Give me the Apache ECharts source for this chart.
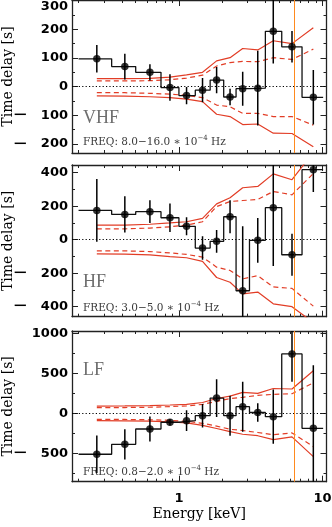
<!DOCTYPE html>
<html>
<head>
<meta charset="utf-8">
<script src="https://cdn.jsdelivr.net/npm/echarts@6/dist/echarts.min.js"></script>
<style>
html, body { margin: 0; padding: 0; background: #fff; }
#chart { width: 332px; height: 527px; }
</style>
</head>
<body>
<div id="chart"></div>
<script>
// energy bins (keV)
var energyEdges = [0.2, 0.34, 0.5, 0.75, 1.0, 1.3, 1.65, 2.05, 2.5, 3.1, 4.0, 5.2, 7.2, 10.1];
var energyCenters = [0.268, 0.42, 0.628, 0.866, 1.13, 1.46, 1.83, 2.27, 2.78, 3.54, 4.54, 6.13, 8.63];
var feLine = 6.4;

// VHF
var vhfDelay = [97, 70, 50, -3, -31, -12, 23, -36, -7, -5, 193, 139, -37];
var vhfErr = [48, 45, 28, 46, 30, 42, 46, 29, 59, 130, 112, 55, 95];
var vhfSolidUp = [28, 28, 29, 33, 41, 50, 90, 101, 133, 128, 160, 150, 205];
var vhfDashUp = [20, 20, 21, 24, 30, 40, 72, 84, 88, 87, 101, 95, 131];
var vhfDashLo = [-21, -21, -23, -26, -30, -38, -64, -70, -93, -93, -104, -104, -134];
var vhfSolidLo = [-32, -33, -35, -38, -43, -52, -96, -104, -132, -130, -162, -163, -209];

// HF
var hfDelay = [175, 151, 167, 131, 80, -50, -10, 137, -305, -4, 191, -90, 418];
var hfErr = [187, 108, 68, 85, 54, 70, 68, 98, 385, 134, 348, 126, 133];
var hfSolidUp = [87, 87, 92, 100, 107, 127, 214, 250, 310, 318, 393, 358, 522];
var hfDashUp = [65, 65, 69, 77, 87, 107, 198, 228, 234, 240, 288, 268, 395];
var hfDashLo = [-67, -67, -71, -79, -88, -104, -164, -184, -234, -215, -282, -291, -397];
var hfSolidLo = [-85, -86, -91, -101, -108, -130, -226, -254, -324, -313, -383, -400, -495];

// LF
var lfDelay = [-512, -388, -196, -112, -92, -30, 190, -30, 83, 10, -42, 742, -188];
var lfErr = [235, 188, 156, 40, 130, 146, 235, 250, 312, 115, 340, 346, 790];
var lfSolidUp = [90, 92, 96, 104, 112, 135, 185, 215, 262, 250, 310, 304, 533];
var lfDashUp = [70, 72, 76, 84, 92, 112, 150, 185, 200, 225, 237, 245, 380];
var lfDashLo = [-75, -77, -81, -88, -100, -125, -160, -200, -215, -240, -268, -245, -417];
var lfSolidLo = [-92, -94, -98, -106, -120, -150, -190, -230, -262, -280, -330, -295, -542];

// axis ticks
var xMajor = [1, 10];
var xMinor = [0.2, 0.3, 0.4, 0.5, 0.6, 0.7, 0.8, 0.9, 2, 3, 4, 5, 6, 7, 8, 9];
var vhfTicks = [-200, -100, 0, 100, 200, 300];
var vhfMinor = [-150, -50, 50, 150, 250];
var hfTicks = [-400, -200, 0, 200, 400];
var hfMinor = [-300, -100, 100, 300];
var lfTicks = [-500, 0, 500, 1000];
var lfMinor = [-750, -250, 250, 750];

var chart = echarts.init(document.getElementById('chart'), null, {renderer: 'canvas'});

var X_MIN = 0.18, X_MAX = 10.66;
var AXIS_COLOR = '#222';
var RED = '#e23d26';

var panels = [
	{name: 'VHF', freq: ['8.0', '16.0'], delay: vhfDelay, err: vhfErr, lines: [vhfSolidUp, vhfDashUp, vhfDashLo, vhfSolidLo],
	 ext: [-231, 302], ticks: vhfTicks, minor: vhfMinor, grid: {top: 0, height: 153}, labelY: 119, freqY: 142, topLabel: 'top'},
	{name: 'HF', freq: ['3.0', '5.0'], delay: hfDelay, err: hfErr, lines: [hfSolidUp, hfDashUp, hfDashLo, hfSolidLo],
	 ext: [-460, 446], ticks: hfTicks, minor: hfMinor, grid: {top: 165, height: 151.7}, labelY: 283, freqY: 308},
	{name: 'LF', freq: ['0.8', '2.0'], delay: lfDelay, err: lfErr, lines: [lfSolidUp, lfDashUp, lfDashLo, lfSolidLo],
	 ext: [-855, 1029], ticks: lfTicks, minor: lfMinor, grid: {top: 331, height: 150.7}, labelY: 371, freqY: 472}
];

var grids = [], xAxes = [], yAxes = [], series = [], graphics = [];

function xAxis(gi, pos, values, len, isMain, showLabel)
{
	return {
		type: 'log', logBase: 10, gridIndex: gi, position: pos, min: X_MIN, max: X_MAX,
		axisLine: {show: isMain, onZero: false, lineStyle: {color: AXIS_COLOR, width: 1.3}},
		axisTick: {show: true, inside: true, length: len, customValues: values, lineStyle: {color: AXIS_COLOR, width: 1}},
		axisLabel: {show: !!showLabel, customValues: values, margin: 10, fontFamily: 'DejaVu Sans', fontWeight: 'bold', fontSize: 13, color: '#000'},
		splitLine: {show: false},
		name: showLabel ? 'Energy [keV]' : '',
		nameLocation: 'middle', nameGap: 26, nameMoveOverlap: false,
		nameTextStyle: {fontFamily: 'DejaVu Serif', fontSize: 14, color: '#000'}
	};
}

function yAxis(gi, p, pos, values, len, isMain, showLabel)
{
	var label = {
		show: !!showLabel, customValues: values, margin: 4,
		fontFamily: 'DejaVu Sans', fontWeight: 'bold', fontSize: 13, color: '#000',
		formatter: function(v){ return v < 0 ? '{m|\u2212}\u2003' + Math.abs(v) : String(v); },
		rich: {m: {fontFamily: 'DejaVu Sans', fontWeight: 'normal', fontSize: 18, color: '#000'}}
	};
	if(p.topLabel) label.verticalAlignMaxLabel = p.topLabel;
	return {
		type: 'value', gridIndex: gi, position: pos, min: p.ext[0], max: p.ext[1],
		axisLine: {show: isMain, onZero: false, lineStyle: {color: AXIS_COLOR, width: 1.3}},
		axisTick: {show: true, inside: true, length: len, customValues: values, lineStyle: {color: AXIS_COLOR, width: 1}},
		axisLabel: label,
		splitLine: {show: false},
		name: showLabel ? 'Time delay [s]' : '',
		nameLocation: 'middle', nameGap: 57, nameMoveOverlap: false,
		nameTextStyle: {fontFamily: 'DejaVu Serif', fontSize: 14, color: '#000'}
	};
}

panels.forEach(function(p, gi){
	grids.push({left: 72, right: 5.5, top: p.grid.top, height: p.grid.height, containLabel: false, outerBoundsMode: 'none'});
	var last = gi == panels.length - 1;
	// order matters: grid flips a repeated position to the other side
	xAxes.push(xAxis(gi, 'bottom', xMajor, 6, true, last));
	xAxes.push(xAxis(gi, 'top', xMajor, 6, true, false));
	xAxes.push(xAxis(gi, 'bottom', xMinor, 3, false, false));
	xAxes.push(xAxis(gi, 'top', xMinor, 3, false, false));
	yAxes.push(yAxis(gi, p, 'left', p.ticks, 6, true, true));
	yAxes.push(yAxis(gi, p, 'right', p.ticks, 6, true, false));
	yAxes.push(yAxis(gi, p, 'left', p.minor, 3, false, false));
	yAxes.push(yAxis(gi, p, 'right', p.minor, 3, false, false));

	var xi = gi * 4, yi = gi * 4;

	// step histogram
	var stepData = energyEdges.map(function(e, i){
		return [e, p.delay[Math.min(i, p.delay.length - 1)]];
	});
	series.push({
		type: 'line', xAxisIndex: xi, yAxisIndex: yi, step: 'end', data: stepData,
		symbol: 'none', lineStyle: {color: '#111', width: 1.3}, z: 3, silent: true,
		markLine: {
			silent: true, symbol: ['none', 'none'], label: {show: false}, animation: false,
			data: [
				{yAxis: 0, lineStyle: {type: [1.2, 2.2], color: '#000', width: 1.1}},
				{xAxis: feLine, lineStyle: {type: 'solid', color: '#ff8a1e', width: 1}}
			]
		}
	});

	// red confidence contours
	p.lines.forEach(function(vals, k){
		series.push({
			type: 'line', xAxisIndex: xi, yAxisIndex: yi, symbol: 'none', silent: true,
			data: energyCenters.map(function(e, i){ return [e, vals[i]]; }),
			lineStyle: {color: RED, width: 1.2, type: (k == 1 || k == 2) ? [5, 3.5] : 'solid'}, z: 2
		});
	});

	// error bars
	series.push({
		type: 'custom', xAxisIndex: xi, yAxisIndex: yi, silent: true, z: 4,
		data: energyCenters.map(function(e, i){ return [e, p.delay[i], p.err[i]]; }),
		encode: {x: 0, y: 1},
		renderItem: function(params, api){
			var x = api.value(0), y = api.value(1), e = api.value(2);
			var a = api.coord([x, y + e]), b = api.coord([x, y - e]);
			var cs = params.coordSys;
			return {
				type: 'line',
				shape: {x1: a[0], y1: a[1], x2: b[0], y2: b[1]},
				style: {stroke: '#000', lineWidth: 1.5},
				clipPath: {type: 'rect', shape: {x: cs.x, y: cs.y, width: cs.width, height: cs.height}}
			};
		}
	});

	// points
	series.push({
		type: 'scatter', xAxisIndex: xi, yAxisIndex: yi, symbol: 'circle', symbolSize: 7.5, silent: true, z: 5,
		itemStyle: {color: '#000'},
		data: energyCenters.map(function(e, i){ return [e, p.delay[i]]; })
	});

	graphics.push({
		type: 'text', left: 83, top: p.labelY - 10,
		style: {text: p.name, font: '18px "Liberation Serif"', fill: '#6e6e6e'}
	});
	graphics.push({
		type: 'text', left: 83, top: p.freqY - 7,
		style: {
			text: '{n|FREQ: ' + p.freq[0] + '\u2212' + p.freq[1] + ' \u2217 10}{s|\u22124}{n| Hz}',
			rich: {
				n: {fontFamily: 'DejaVu Serif', fontSize: 10.5, lineHeight: 14, fill: '#3a3a3a'},
				s: {fontFamily: 'DejaVu Serif', fontSize: 7, lineHeight: 8, verticalAlign: 'top', fill: '#3a3a3a'}
			}
		}
	});
});

chart.setOption({
	animation: false,
	grid: grids,
	xAxis: xAxes,
	yAxis: yAxes,
	series: series,
	graphic: graphics
});
</script>
</body>
</html>
